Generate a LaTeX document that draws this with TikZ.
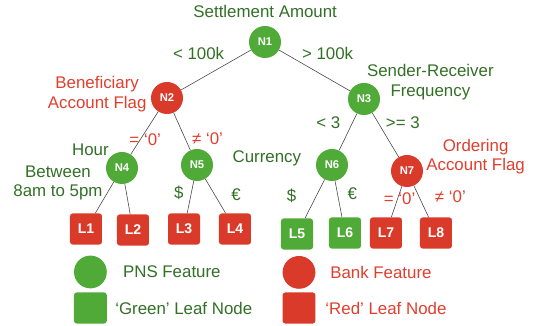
\documentclass[tikz,border=0pt]{standalone}
\usepackage{fontspec}
\setmainfont{Liberation Sans}
\definecolor{pnsgreen}{RGB}{80,170,55}
\definecolor{bankred}{RGB}{218,58,42}
\definecolor{pnstext}{RGB}{50,112,38}
\definecolor{banktext}{RGB}{225,62,45}
\begin{document}
\begin{tikzpicture}[
    pns/.style={circle, fill=pnsgreen, text=white, font=\footnotesize\bfseries, minimum size=0.8cm, inner sep=0pt},
    bank/.style={circle, fill=bankred, text=white, font=\footnotesize\bfseries, minimum size=0.8cm, inner sep=0pt},
    gleaf/.style={rectangle, rounded corners=2pt, fill=pnsgreen, text=white, font=\normalsize\bfseries, minimum width=0.8cm, minimum height=0.78cm, inner sep=0pt},
    rleaf/.style={rectangle, rounded corners=2pt, fill=bankred, text=white, font=\normalsize\bfseries, minimum width=0.8cm, minimum height=0.78cm, inner sep=0pt},
    gtext/.style={text=pnstext, font=\large, align=center, inner sep=0pt},
    rtext/.style={text=banktext, font=\large, align=center, inner sep=0pt},
    edge/.style={draw=black!75, line width=0.4pt}
]
    \useasboundingbox (0,0) rectangle (13.35,8.15);

    % Decision nodes
    \node[pns] (n1) at (6.625, 7.10) {N1};
    \node[bank] (n2) at (4.175, 5.70) {N2};
    \node[pns] (n3) at (9.10, 5.675) {N3};
    \node[pns] (n4) at (3.05, 3.95) {N4};
    \node[pns] (n5) at (4.925, 4.025) {N5};
    \node[pns] (n6) at (8.30, 4.025) {N6};
    \node[bank] (n7) at (10.175, 3.875) {N7};

    % Leaves
    \node[rleaf] (l1) at (2.15, 2.425) {L1};
    \node[rleaf] (l2) at (3.325, 2.40) {L2};
    \node[rleaf] (l3) at (4.60, 2.425) {L3};
    \node[rleaf] (l4) at (5.875, 2.425) {L4};
    \node[gleaf] (l5) at (7.425, 2.30) {L5};
    \node[gleaf] (l6) at (8.625, 2.325) {L6};
    \node[rleaf] (l7) at (9.65, 2.325) {L7};
    \node[rleaf] (l8) at (10.90, 2.325) {L8};

    % Branches
    \draw[edge] (n1) -- (n2);
    \draw[edge] (n1) -- (n3);
    \draw[edge] (n2) -- (n4);
    \draw[edge] (n2) -- (n5);
    \draw[edge] (n3) -- (n6);
    \draw[edge] (n3) -- (n7);
    \draw[edge] (n4) -- (l1);
    \draw[edge] (n4) -- (l2);
    \draw[edge] (n5) -- (l3);
    \draw[edge] (n5) -- (l4);
    \draw[edge] (n6) -- (l5);
    \draw[edge] (n6) -- (l6);
    \draw[edge] (n7) -- (l7);
    \draw[edge] (n7) -- (l8);

    % Feature names
    \node[gtext] (f1) at (6.63, 7.87) {Settlement Amount};
    \node[rtext] (f2) at (2.43, 5.80) {Beneficiary\\Account Flag};
    \node[gtext] (f3) at (10.76, 6.09) {Sender-Receiver\\Frequency};
    \node[gtext] (f4a) at (2.26, 4.40) {Hour};
    \node[gtext] (f4b) at (1.45, 3.58) {Between\\8am to 5pm};
    \node[gtext] (f5) at (6.67, 4.20) {Currency};
    \node[rtext] (f7) at (11.89, 4.23) {Ordering\\Account Flag};

    % Branch conditions
    \node[gtext] (c12) at (4.965, 6.825) {< 100k};
    \node[gtext] (c13) at (8.19, 6.825) {> 100k};
    \node[rtext] (c24) at (3.63, 4.65) {= ‘0’};
    \node[rtext] (c25) at (5.19, 4.68) {≠ ‘0’};
    \node[gtext] (c36) at (8.21, 5.07) {< 3};
    \node[gtext] (c37) at (10.07, 5.08) {>= 3};
    \node[gtext] (c53) at (4.47, 3.32) {\$};
    \node[gtext] (c54) at (5.90, 3.275) {€};
    \node[gtext] (c65) at (7.29, 3.25) {\$};
    \node[gtext] (c66) at (8.81, 3.30) {€};
    \node[rtext] (c77) at (9.99, 3.17) {= ‘0’};
    \node[rtext] (c78) at (11.26, 3.24) {≠ ‘0’};

    % Legend
    \node[pns, minimum size=0.82cm] (kpns) at (2.26, 1.35) {};
    \node[gtext, anchor=west] (kpnst) at (3.07, 1.35) {PNS Feature};
    \node[gleaf, minimum width=0.82cm] (kgl) at (2.26, 0.45) {};
    \node[gtext, anchor=west] (kglt) at (2.875, 0.45) {‘Green’ Leaf Node};
    \node[bank, minimum size=0.82cm] (kbank) at (7.475, 1.34) {};
    \node[rtext, anchor=west] (kbankt) at (8.25, 1.34) {Bank Feature};
    \node[rleaf, minimum width=0.82cm] (krl) at (7.475, 0.45) {};
    \node[rtext, anchor=west] (krlt) at (8.13, 0.45) {‘Red’ Leaf Node};
\end{tikzpicture}
\end{document}
